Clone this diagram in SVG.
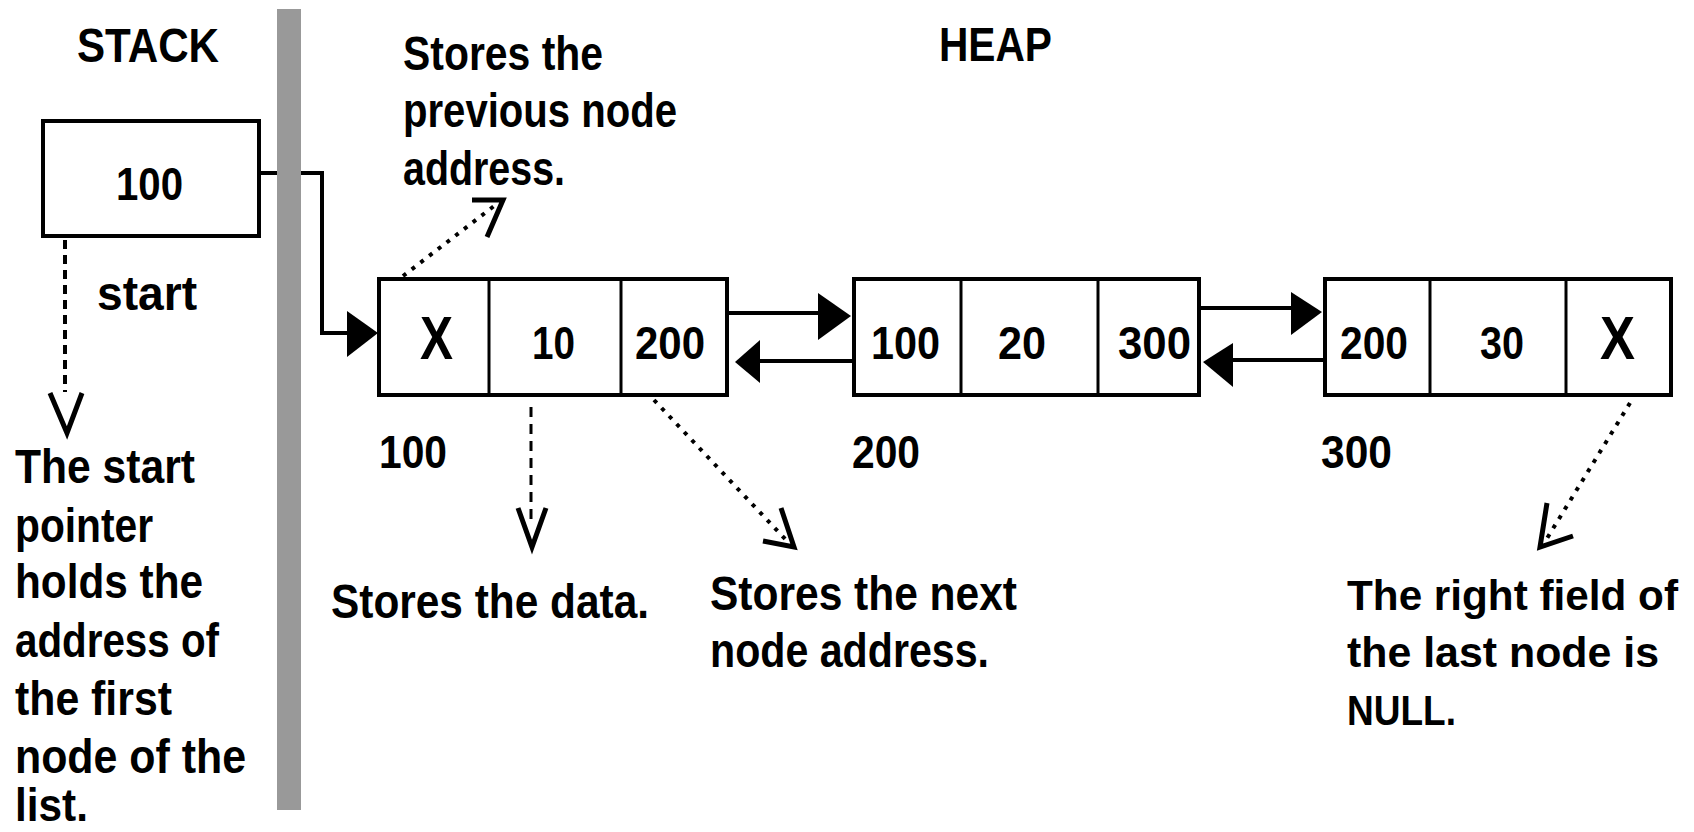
<svg xmlns="http://www.w3.org/2000/svg" width="1694" height="832" viewBox="0 0 1694 832">
<style>
  text { font-family: "Liberation Sans", Arial, sans-serif; font-weight: bold; fill: #000; }
  .t { font-size: 48px; }
  .r { font-size: 43px; }
  .n { font-size: 46px; }
  .x { font-size: 62px; }
  .box { fill: #fff; stroke: #000; stroke-width: 4; }
  .div { stroke: #000; stroke-width: 3; }
  .line { fill: none; stroke: #000; stroke-width: 4; }
  .head { fill: #000; stroke: none; }
  .dot { fill: none; stroke: #000; stroke-width: 4; stroke-dasharray: 4 7; }
  .dash { fill: none; stroke: #000; stroke-width: 3; stroke-dasharray: 10 7; }
  .vdash { fill: none; stroke: #000; stroke-width: 4; stroke-dasharray: 9 6; }
  .tip { fill: none; stroke: #000; stroke-width: 5; stroke-linejoin: miter; }
</style>
<rect x="0" y="0" width="1694" height="832" fill="#fff"/>

<g id="connectors">
  <polyline class="line" points="261,173 322,173 322,333 350,333"/>
  <polygon class="head" points="347,311 378,333 347,357"/>
  <line class="line" x1="729" y1="313" x2="820" y2="313"/>
  <polygon class="head" points="818,293 851,316 818,340"/>
  <line class="line" x1="758" y1="361" x2="852" y2="361"/>
  <polygon class="head" points="760,340 735,362 760,383"/>
  <line class="line" x1="1201" y1="308" x2="1293" y2="308"/>
  <polygon class="head" points="1291,292 1322,312 1291,335"/>
  <line class="line" x1="1231" y1="360" x2="1323" y2="360"/>
  <polygon class="head" points="1233,343 1203,362 1233,387"/>

  <line class="vdash" x1="65" y1="240" x2="65" y2="392"/>
  <polyline class="tip" points="50,393 67,433 82,393"/>

  <line class="dot" x1="403" y1="276" x2="498" y2="203"/>
  <polyline class="tip" points="472,200 503,200 487,237"/>

  <line class="dash" x1="531" y1="407" x2="531" y2="522"/>
  <polyline class="tip" points="518,508 532,547 546,508"/>

  <line class="dot" x1="654" y1="400" x2="788" y2="542"/>
  <polyline class="tip" points="781,508 794,547 763,541"/>

  <line class="dot" x1="1630" y1="403" x2="1546" y2="540"/>
  <polyline class="tip" points="1547,503 1540,547 1573,536"/>
</g>

<rect id="divider" x="277" y="9" width="24" height="801" fill="#999999"/>

<g id="labels">
  <text class="t" x="77" y="62" textLength="142" lengthAdjust="spacingAndGlyphs">STACK</text>
  <text class="t" x="939" y="61" textLength="113" lengthAdjust="spacingAndGlyphs">HEAP</text>
  <text class="t" x="97" y="310" textLength="100" lengthAdjust="spacingAndGlyphs">start</text>
  <text class="t" x="403" y="70" textLength="200" lengthAdjust="spacingAndGlyphs">Stores the</text>
  <text class="t" x="403" y="127" textLength="274" lengthAdjust="spacingAndGlyphs">previous node</text>
  <text class="t" x="403" y="185" textLength="162" lengthAdjust="spacingAndGlyphs">address.</text>
  <text class="n" x="379" y="468" textLength="68" lengthAdjust="spacingAndGlyphs">100</text>
  <text class="n" x="852" y="468" textLength="68" lengthAdjust="spacingAndGlyphs">200</text>
  <text class="n" x="1321" y="468" textLength="71" lengthAdjust="spacingAndGlyphs">300</text>
  <text class="t" x="15" y="483" textLength="180" lengthAdjust="spacingAndGlyphs">The start</text>
  <text class="t" x="15" y="542" textLength="138" lengthAdjust="spacingAndGlyphs">pointer</text>
  <text class="t" x="15" y="598" textLength="188" lengthAdjust="spacingAndGlyphs">holds the</text>
  <text class="t" x="15" y="657" textLength="204" lengthAdjust="spacingAndGlyphs">address of</text>
  <text class="t" x="15" y="715" textLength="157" lengthAdjust="spacingAndGlyphs">the first</text>
  <text class="t" x="15" y="773" textLength="231" lengthAdjust="spacingAndGlyphs">node of the</text>
  <text class="n" x="15" y="821" textLength="73" lengthAdjust="spacingAndGlyphs">list.</text>
  <text class="t" x="331" y="618" textLength="318" lengthAdjust="spacingAndGlyphs">Stores the data.</text>
  <text class="t" x="710" y="610" textLength="307" lengthAdjust="spacingAndGlyphs">Stores the next</text>
  <text class="t" x="710" y="667" textLength="279" lengthAdjust="spacingAndGlyphs">node address.</text>
  <text class="r" x="1347" y="610" textLength="331" lengthAdjust="spacingAndGlyphs">The right field of</text>
  <text class="r" x="1347" y="667" textLength="312" lengthAdjust="spacingAndGlyphs">the last node is</text>
  <text class="r" x="1347" y="725" textLength="109" lengthAdjust="spacingAndGlyphs">NULL.</text>
</g>

<g id="stack-start">
  <rect class="box" x="43" y="121" width="216" height="115"/>
  <text class="n" x="116" y="200" textLength="67" lengthAdjust="spacingAndGlyphs">100</text>
</g>

<g id="node-100">
  <rect class="box" x="379" y="279" width="348" height="116"/>
  <line class="div" x1="489" y1="279" x2="489" y2="395"/>
  <line class="div" x1="621" y1="279" x2="621" y2="395"/>
  <text class="x" x="420" y="359" textLength="33" lengthAdjust="spacingAndGlyphs">X</text>
  <text class="n" x="532" y="359" textLength="43" lengthAdjust="spacingAndGlyphs">10</text>
  <text class="n" x="635" y="359" textLength="70" lengthAdjust="spacingAndGlyphs">200</text>
</g>

<g id="node-200">
  <rect class="box" x="854" y="279" width="345" height="116"/>
  <line class="div" x1="961" y1="279" x2="961" y2="395"/>
  <line class="div" x1="1098" y1="279" x2="1098" y2="395"/>
  <text class="n" x="871" y="359" textLength="69" lengthAdjust="spacingAndGlyphs">100</text>
  <text class="n" x="998" y="359" textLength="48" lengthAdjust="spacingAndGlyphs">20</text>
  <text class="n" x="1118" y="359" textLength="73" lengthAdjust="spacingAndGlyphs">300</text>
</g>

<g id="node-300">
  <rect class="box" x="1325" y="279" width="346" height="116"/>
  <line class="div" x1="1430" y1="279" x2="1430" y2="395"/>
  <line class="div" x1="1566" y1="279" x2="1566" y2="395"/>
  <text class="n" x="1340" y="359" textLength="68" lengthAdjust="spacingAndGlyphs">200</text>
  <text class="n" x="1480" y="359" textLength="44" lengthAdjust="spacingAndGlyphs">30</text>
  <text class="x" x="1600" y="359" textLength="35" lengthAdjust="spacingAndGlyphs">X</text>
</g>
</svg>
